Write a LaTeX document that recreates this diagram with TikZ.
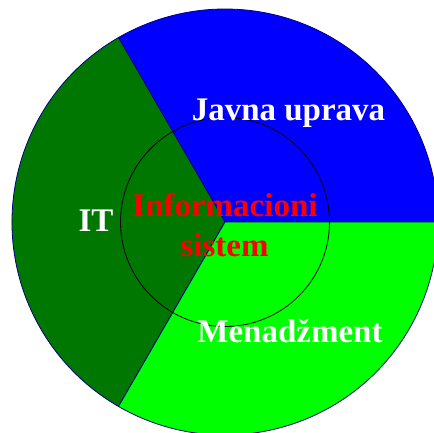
\documentclass[tikz,border=0pt]{standalone}
\usepackage{fontspec}
\setmainfont{Liberation Serif}
\definecolor{jublue}{RGB}{0,0,255}
\definecolor{itgreen}{RGB}{0,119,0}
\definecolor{mgreen}{RGB}{0,255,0}
\definecolor{edge}{RGB}{0,0,128}
\begin{document}
\begin{tikzpicture}[x=1pt,y=-1pt,
  sector/.style={draw=edge,line width=0.8pt},
  lbl/.style={font=\bfseries\fontsize{33}{39.6}\selectfont,text=white,anchor=base,inner sep=0pt},
  core/.style={font=\bfseries\fontsize{33}{39.6}\selectfont,text=red,anchor=base,inner sep=0pt}]
\useasboundingbox (0,0) rectangle (434,432);
\clip (0,0) rectangle (434,432);
\coordinate (c) at (225,222);
\fill[white] (0,0) rectangle (434,432);
% sectors (angles in pixel frame with y down: math angle a -> use -a)
\filldraw[sector,fill=jublue] (c) -- ++(0:213) arc[start angle=0,end angle=-120,radius=213] -- cycle;
\filldraw[sector,fill=itgreen] (c) -- ++(-120:213) arc[start angle=-120,end angle=-240,radius=213] -- cycle;
\filldraw[sector,fill=mgreen] (c) -- ++(-240:213) arc[start angle=-240,end angle=-360,radius=213] -- cycle;
\draw[black,line width=0.8pt] (c) circle[radius=104.5];
\node[lbl] (ju) at (288.5,120) {Javna uprava};
\node[lbl] (it) at (96,231) {IT};
\node[lbl] (mg) at (290,342) {Menadžment};
\node[core] (is1) at (225,216.7) {Informacioni};
\node[core] (is2) at (224.5,256) {sistem};
\end{tikzpicture}
\end{document}
